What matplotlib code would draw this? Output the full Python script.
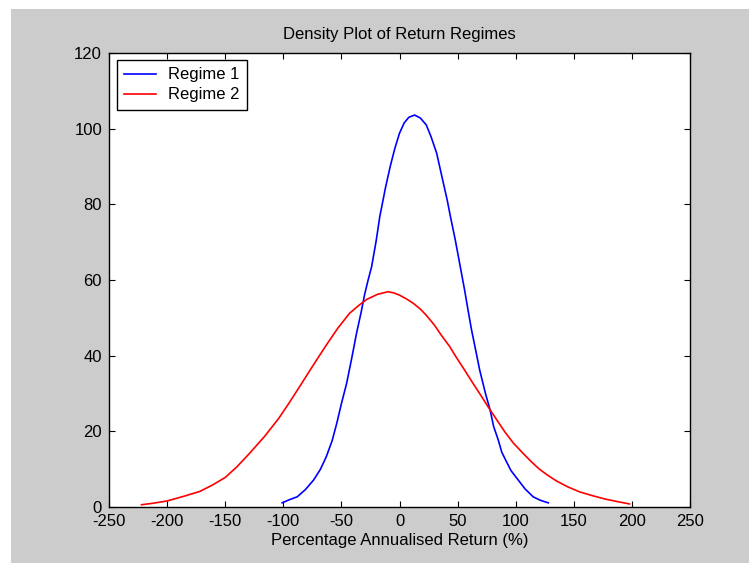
import matplotlib
matplotlib.use("Agg")
import matplotlib.pyplot as plt
from matplotlib.patches import Rectangle

# Data
regime1_x = [-101, -95, -88, -81, -74, -68, -63, -58, -54, -50, -45.5, -41, -37, -33, -30, -27, -24, -20, -17,
             -12, -8, -4, 0, 4, 8, 13, 18, 23, 27, 32, 36, 41, 44, 48, 52, 56, 59, 62, 66, 69, 74, 78, 81,
             85, 88, 92, 96, 101, 108, 115, 121, 128]
regime1_y = [1.1, 1.9, 2.7, 4.6, 7.1, 10.0, 13.3, 17.5, 22.1, 27.3, 32.7, 39.5, 45.9, 51.5, 56.2, 60.0, 63.5,
             70.5, 76.7, 84.5, 90.0, 94.8, 98.8, 101.5, 103.0, 103.6, 102.8, 101.0, 98.0, 93.5, 88.0, 81.2,
             76.5, 70.6, 64.0, 57.4, 52.0, 46.8, 40.8, 36.2, 30.0, 25.6, 21.3, 17.7, 14.5, 12.0, 9.6, 7.6,
             4.8, 2.7, 1.8, 1.1]

regime2_x = [-222, -212, -200, -186, -172, -161, -150, -140, -129, -116, -104, -95, -86, -74, -63, -53, -43,
             -35, -28, -19, -10, -5, 0, 6, 12, 18, 23, 30, 36, 43, 49, 56, 63, 70, 76, 84, 91, 98, 106, 113,
             120, 127, 135, 145, 155, 166, 177, 188, 198]
regime2_y = [0.6, 1.0, 1.6, 2.8, 4.1, 5.8, 7.8, 10.6, 14.2, 18.7, 23.4, 27.5, 31.8, 37.6, 42.8, 47.3, 51.2,
             53.3, 54.9, 56.2, 56.9, 56.6, 56.0, 55.0, 53.8, 52.3, 50.7, 48.1, 45.4, 42.5, 39.5, 36.2, 32.8,
             29.5, 26.6, 22.9, 19.7, 16.9, 14.3, 12.1, 10.1, 8.5, 6.9, 5.3, 4.0, 3.0, 2.1, 1.4, 0.8]

xticks = [-250, -200, -150, -100, -50, 0, 50, 100, 150, 200, 250]
yticks = [0, 20, 40, 60, 80, 100, 120]

plt.rcParams['font.family'] = ['Liberation Sans', 'DejaVu Sans']
plt.rcParams['axes.unicode_minus'] = False

W, H = 749, 563
fig = plt.figure(figsize=(W / 100, H / 100), dpi=100, facecolor='white')
fig.patches.append(Rectangle((11 / W, 0), 1 - 11 / W, (H - 9) / H, transform=fig.transFigure,
                             facecolor='#cccccc', edgecolor='none', zorder=-10))

ax = fig.add_axes([109 / W, (H - 507) / H, 581 / W, 454 / H])
ax.set_facecolor('white')

ax.plot(regime1_x, regime1_y, color='#0000ff', lw=1.2, label='Regime 1')
ax.plot(regime2_x, regime2_y, color='#ff0000', lw=1.2, label='Regime 2')

ax.set_xlim(-250, 250)
ax.set_ylim(0, 120)
ax.set_xticks(xticks)
ax.set_yticks(yticks)
fs = 12
ax.tick_params(direction='in', length=4.5, width=0.8, top=True, right=True,
               labelsize=fs, colors='black', pad=5)
for s in ax.spines.values():
    s.set_linewidth(1.0)
    s.set_color('black')

ax.set_title('Density Plot of Return Regimes', fontsize=fs, pad=10)
ax.set_xlabel('Percentage Annualised Return (%)', fontsize=fs, labelpad=3)

leg = ax.legend(loc='upper left', bbox_to_anchor=(7.7 / 581, 1 - 7 / 454), borderaxespad=0,
                fontsize=fs, fancybox=False, framealpha=1, edgecolor='black',
                handlelength=1.9, handletextpad=0.7, labelspacing=0.3, borderpad=0.45)
leg.get_frame().set_linewidth(1.0)

fig.savefig('out.png', dpi=100, facecolor=fig.get_facecolor())
